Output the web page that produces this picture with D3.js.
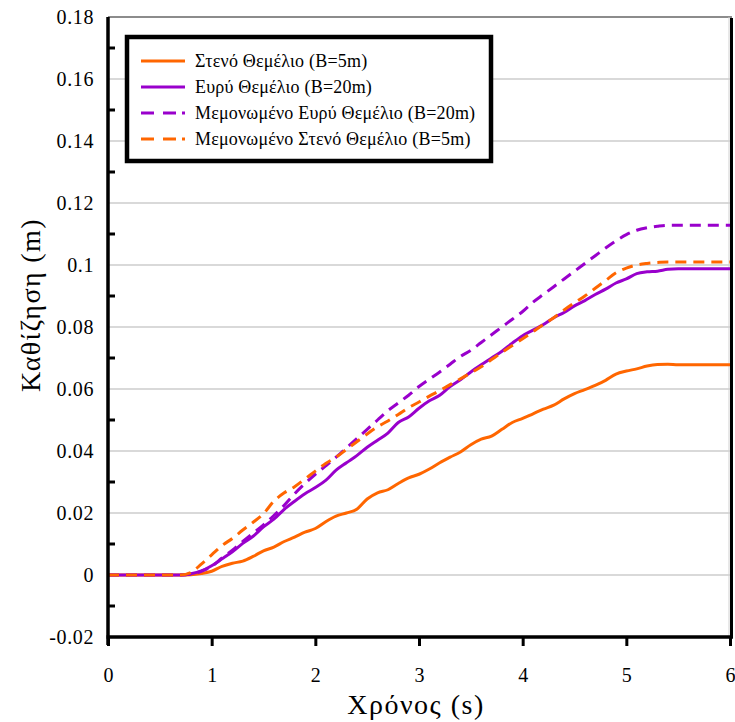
<!DOCTYPE html>
<html>
<head>
<meta charset="utf-8">
<script src="https://cdn.jsdelivr.net/npm/d3@7"></script>
<style>
    body { margin: 0; background: #fff; }
    svg { display: block; font-family: "Liberation Serif", "DejaVu Serif", serif; }
</style>
</head>
<body>
<svg id="chart" width="735" height="722"></svg>
<script>
var times = [0, 0.7, 0.8, 0.9, 1.0, 1.1, 1.2, 1.3, 1.4, 1.5, 1.6, 1.7, 1.8, 1.9, 2.0, 2.1, 2.2, 2.3, 2.4, 2.5,
    2.6, 2.7, 2.8, 2.9, 3.0, 3.1, 3.2, 3.3, 3.4, 3.5, 3.6, 3.7, 3.8, 3.9, 4.0, 4.1, 4.2, 4.3, 4.4, 4.5,
    4.6, 4.7, 4.8, 4.9, 5.0, 5.1, 5.2, 5.3, 5.4, 5.5, 6.0]

// Στενό Θεμέλιο (B=5m)
var narrow = [0, 0, 0.0001, 0.0005, 0.0012, 0.0028, 0.0038, 0.0045, 0.0060, 0.0078, 0.0090, 0.0108, 0.0122, 0.0138, 0.0150, 0.0172, 0.0190, 0.0200, 0.0212, 0.0245,
    0.0265, 0.0275, 0.0295, 0.0313, 0.0325, 0.0342, 0.0362, 0.0380, 0.0397, 0.0420, 0.0438, 0.0448, 0.0470, 0.0492, 0.0505, 0.0520, 0.0535, 0.0548, 0.0568, 0.0585,
    0.0598, 0.0612, 0.0628, 0.0648, 0.0658, 0.0665, 0.0674, 0.0679, 0.0680, 0.0678, 0.0678]

// Ευρύ Θεμέλιο (B=20m)
var wide = [0, 0, 0.0004, 0.0013, 0.0030, 0.0052, 0.0075, 0.0102, 0.0125, 0.0155, 0.0180, 0.0212, 0.0238, 0.0262, 0.0282, 0.0305, 0.0338, 0.0362, 0.0385, 0.0412,
    0.0435, 0.0458, 0.0492, 0.0510, 0.0538, 0.0562, 0.0580, 0.0608, 0.0630, 0.0655, 0.0678, 0.0700, 0.0722, 0.0748, 0.0772, 0.0790, 0.0808, 0.0830, 0.0847, 0.0868,
    0.0885, 0.0905, 0.0922, 0.0942, 0.0955, 0.0972, 0.0978, 0.0980, 0.0986, 0.0988, 0.0988]

// Μεμονωμένο Ευρύ Θεμέλιο (B=20m)
var wideAlone = [0, 0, 0.0003, 0.0012, 0.0028, 0.0055, 0.0080, 0.0108, 0.0135, 0.0162, 0.0192, 0.0225, 0.0262, 0.0295, 0.0325, 0.0352, 0.0380, 0.0410, 0.0440, 0.0470,
    0.0500, 0.0530, 0.0555, 0.0580, 0.0608, 0.0632, 0.0655, 0.0680, 0.0705, 0.0725, 0.0750, 0.0775, 0.0800, 0.0825, 0.0850, 0.0880, 0.0905, 0.0930, 0.0955, 0.0980,
    0.1005, 0.1030, 0.1055, 0.1078, 0.1098, 0.1112, 0.1120, 0.1125, 0.1128, 0.1128, 0.1128]

// Μεμονωμένο Στενό Θεμέλιο (B=5m)
var narrowAlone = [0, 0, 0.0008, 0.0035, 0.0065, 0.0095, 0.0118, 0.0145, 0.0170, 0.0198, 0.0238, 0.0265, 0.0285, 0.0310, 0.0335, 0.0360, 0.0380, 0.0405, 0.0430, 0.0455,
    0.0478, 0.0497, 0.0518, 0.0540, 0.0558, 0.0577, 0.0595, 0.0614, 0.0633, 0.0652, 0.0672, 0.0695, 0.0718, 0.0740, 0.0762, 0.0785, 0.0808, 0.0830, 0.0855, 0.0878,
    0.0900, 0.0925, 0.0950, 0.0975, 0.0990, 0.1000, 0.1005, 0.1008, 0.1010, 0.1010, 0.1010]

var seriesNames = ["Στενό Θεμέλιο (B=5m)", "Ευρύ Θεμέλιο (B=20m)", "Μεμονωμένο Ευρύ Θεμέλιο (B=20m)", "Μεμονωμένο Στενό Θεμέλιο (B=5m)"]
var seriesValues = [narrow, wide, wideAlone, narrowAlone]
var seriesColors = ["#ff6600", "#9900cc", "#9900cc", "#ff6600"]
var seriesDashed = [false, false, true, true]

var xTicks = [0, 1, 2, 3, 4, 5, 6]
var yTicks = [-0.02, 0, 0.02, 0.04, 0.06, 0.08, 0.1, 0.12, 0.14, 0.16, 0.18]
var yTickLabels = ["-0.02", "0", "0.02", "0.04", "0.06", "0.08", "0.1", "0.12", "0.14", "0.16", "0.18"]
var yMinor = [-0.01, 0.01, 0.03, 0.05, 0.07, 0.09, 0.11, 0.13, 0.15, 0.17]

var svg = d3.select("#chart")
var x = d3.scaleLinear().domain([0, 6]).range([108, 730])
var y = d3.scaleLinear().domain([-0.02, 0.18]).range([637, 17])

// gridlines
svg.append("g").selectAll("line")
    .data(yTicks.slice(1, -1))
    .join("line")
    .attr("x1", x(0)).attr("x2", x(6))
    .attr("y1", d => y(d)).attr("y2", d => y(d))
    .style("stroke", "#d9d9d9")
    .style("stroke-width", "2px")

// plot border (top grey, right black)
svg.append("line")
    .attr("x1", x(0)).attr("x2", x(6) + 2)
    .attr("y1", y(0.18)).attr("y2", y(0.18))
    .style("stroke", "#8c8c8c").style("stroke-width", "2px")
svg.append("line")
    .attr("x1", x(6) - 1).attr("x2", x(6) - 1)
    .attr("y1", y(0.18)).attr("y2", y(-0.02))
    .style("stroke", "#d0d0d0").style("stroke-width", "1px")
svg.append("line")
    .attr("x1", x(6) + 1.5).attr("x2", x(6) + 1.5)
    .attr("y1", y(0.18) + 1).attr("y2", y(-0.02))
    .style("stroke", "black").style("stroke-width", "3px")

// series
var line = d3.line().curve(d3.curveMonotoneX)
for (let i = 0; i < seriesValues.length; i++) {
    let pts = times.map((t, j) => [x(t), y(seriesValues[i][j])])
    svg.append("path")
        .attr("d", line(pts))
        .style("fill", "none")
        .style("stroke", seriesColors[i])
        .style("stroke-width", "3px")
        .style("stroke-dasharray", seriesDashed[i] ? "11,7" : null)
}

// axes
var xAxis = d3.axisBottom(x).tickValues(xTicks).tickSize(9).tickPadding(22).tickFormat(d3.format("d"))
var gx = svg.append("g").attr("transform", "translate(0," + y(-0.02) + ")").call(xAxis)
gx.select(".domain").attr("d", "M" + (x(0) - 1.5) + ",0H" + (x(6) + 3)).style("stroke-width", "3.5px")
gx.selectAll(".tick line").style("stroke-width", "3px")
gx.selectAll(".tick text").style("font-size", "20px").style("font-family", "Liberation Serif").attr("fill", "#000")

var yAxis = d3.axisLeft(y).tickValues(yTicks).tickSize(0).tickPadding(14).tickFormat((d, i) => yTickLabels[i])
var gy = svg.append("g").attr("transform", "translate(" + x(0) + ",0)").call(yAxis)
gy.select(".domain").attr("d", "M0," + y(0.18) + "V" + (y(-0.02) + 8)).style("stroke-width", "3.5px")
gy.selectAll(".tick text")
    .style("font-size", "20px")
    .style("letter-spacing", "0.6px")
    .style("font-family", "Liberation Serif")
    .attr("fill", "#000")

svg.append("g").selectAll("line")
    .data(yMinor)
    .join("line")
    .attr("x1", x(0)).attr("x2", x(0) + 7)
    .attr("y1", d => y(d)).attr("y2", d => y(d))
    .style("stroke", "black")
    .style("stroke-width", "3px")

// axis titles
svg.append("text")
    .attr("x", 416).attr("y", 714)
    .attr("text-anchor", "middle")
    .style("font-size", "28px")
    .style("letter-spacing", "1.5px")
    .text("Χρόνος (s)")
svg.append("text")
    .attr("transform", "translate(40,305) rotate(-90)")
    .attr("text-anchor", "middle")
    .style("font-size", "28px")
    .style("letter-spacing", "1.4px")
    .text("Καθίζηση (m)")

// legend
var legend = svg.append("g")
legend.append("rect")
    .attr("x", 127).attr("y", 37)
    .attr("width", 364).attr("height", 124)
    .style("fill", "white")
    .style("stroke", "black")
    .style("stroke-width", "4.5px")
var rows = legend.selectAll("g")
    .data(seriesNames)
    .join("g")
    .attr("transform", (d, i) => "translate(0," + (61 + i * 26) + ")")
rows.append("line")
    .attr("x1", 141).attr("x2", 185)
    .attr("y1", 0).attr("y2", 0)
    .style("stroke", (d, i) => seriesColors[i])
    .style("stroke-width", "3px")
    .style("stroke-dasharray", (d, i) => seriesDashed[i] ? "13,9,13,6,3,9" : null)
rows.append("text")
    .attr("x", 195).attr("y", 6)
    .style("font-size", "18px")
    .style("letter-spacing", "0.2px")
    .text(d => d)
</script>
</body>
</html>
